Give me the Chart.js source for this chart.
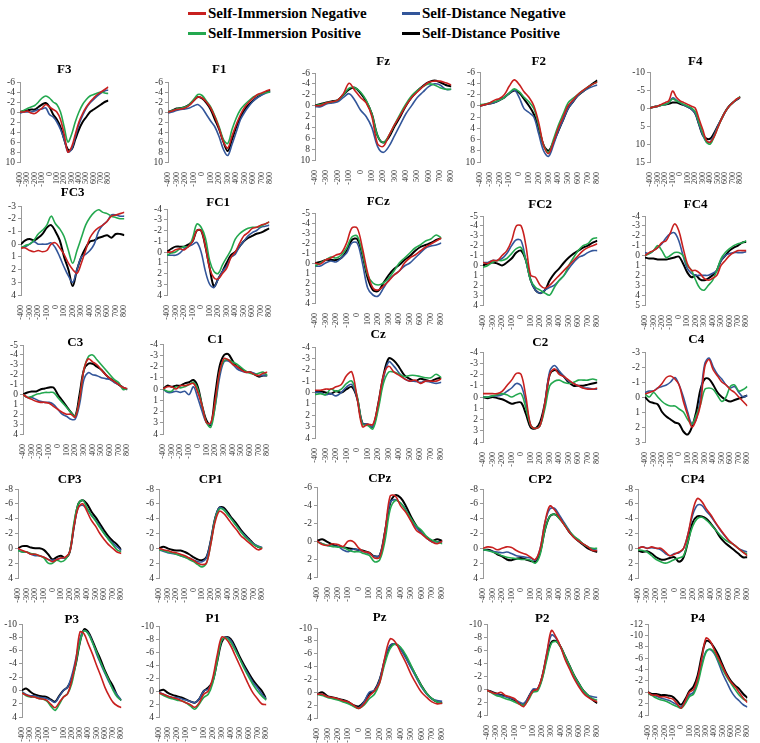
<!DOCTYPE html>
<html lang="en">
<head>
    <meta charset="UTF-8">
    <title>ERP waveforms by condition</title>
    <script src="https://cdn.jsdelivr.net/npm/chart.js"></script>
    <style>
        body { margin: 0; background: #fff; font-family: "Liberation Serif", "Times New Roman", serif; }
        #page { position: relative; width: 760px; height: 743px; overflow: hidden; }
        #page canvas { position: absolute; }
        .key { position: absolute; font-weight: bold; font-size: 15px; line-height: 18px; color: #000; white-space: nowrap; }
        .key i { display: inline-block; width: 18px; height: 3px; vertical-align: middle; margin-right: 2px; margin-top: -2px; }
    </style>
</head>
<body>
<div id="page">
    <div class="key" style="left:188px;top:4px"><i style="background:#c8201f"></i>Self-Immersion Negative</div>
    <div class="key" style="left:188px;top:24px"><i style="background:#23a84f"></i>Self-Immersion Positive</div>
    <div class="key" style="left:402px;top:4px"><i style="background:#33569a"></i>Self-Distance Negative</div>
    <div class="key" style="left:402px;top:24px"><i style="background:#000"></i>Self-Distance Positive</div>
</div>

<script>
    // time axis (ms), one sample every 50 ms
    const times = [-400,-350,-300,-250,-200,-150,-100,-50,0,50,100,150,200,250,300,350,400,450,500,550,600,650,700,750,800];
    const conditions = ['Self-Immersion Negative', 'Self-Immersion Positive', 'Self-Distance Negative', 'Self-Distance Positive'];
    const colors = ['#c8201f', '#23a84f', '#33569a', '#000000'];
    const channels = ['F3','F1','Fz','F2','F4','FC3','FC1','FCz','FC2','FC4','C3','C1','Cz','C2','C4','CP3','CP1','CPz','CP2','CP4','P3','P1','Pz','P2','P4'];

    // amplitudes (uV), order per channel: SI neg, SI pos, SD neg, SD pos
    const F3 = [
        [0,0,-0.2,0.2,0.3,-0.2,-0.8,-1.5,-1,-0.5,0,1.5,4.5,8,7,4.5,2,0.3,-1,-2,-2.8,-3.5,-4,-4.5,-5],
        [0,-0.3,-0.7,-1,-1.3,-2,-2.8,-3.2,-2.8,-2,-1.5,0,3,6,4.5,2,0,-1.5,-2.5,-3.2,-3.5,-3.8,-4,-3.8,-3.7],
        [0.2,0,0,0,-0.2,-0.5,-0.6,-0.8,0.5,1,2,3.5,5.5,8,7.5,5,2.5,0.7,-0.8,-1.8,-2.5,-3.2,-3.8,-4.2,-4.4],
        [0,-0.2,-0.3,-0.5,-0.5,-1,-1.5,-1.8,-1,0.5,1.5,3,5.5,7.5,7.5,5.5,3.5,2,1,0,-0.5,-1,-1.5,-2,-2.3]
    ];
    const F1 = [
        [0,-0.2,-0.5,-0.6,-0.8,-1.3,-2.2,-3,-2.8,-2,-0.8,1,3.3,6,7.2,4.8,2.5,0.5,-1,-2,-2.8,-3.5,-3.8,-4.2,-4.5],
        [0,-0.3,-0.6,-0.8,-1,-1.5,-2.5,-3.5,-3.3,-2.2,-1,0.8,3,5.5,6.3,3.5,1.2,-0.5,-1.5,-2.3,-3,-3.4,-3.7,-3.9,-4],
        [0.2,0,-0.3,-0.5,-0.6,-0.8,-1.2,-1.5,-0.8,0.5,1.8,3,5,7.5,8.7,6.5,4,1.5,0,-1.2,-2.2,-2.9,-3.4,-3.8,-4],
        [0,-0.3,-0.7,-0.8,-1,-1.5,-2.3,-3,-2.7,-1.8,-0.5,1.5,3.5,6,7.8,5.5,3,1,-0.5,-1.5,-2.3,-3,-3.5,-4,-4.3]
    ];
    const Fz = [
        [0,0,-0.5,-0.7,-1,-2.2,-4.1,-2.8,-1.5,-0.5,2,7,7.5,5.5,3.5,1.8,0,-1.5,-2.5,-3.5,-4.3,-4.5,-4.5,-4.2,-3.8],
        [0,-0.2,-0.5,-0.7,-1,-2,-3.2,-3.3,-2.5,-1,1.5,5.5,6.8,5.5,3.5,1.5,-0.3,-1.8,-2.8,-3.5,-4,-3.8,-3.3,-3,-3],
        [0.2,0.2,-0.3,-0.5,-0.7,-1.5,-2.2,-1,0.8,2,4,7.5,8.6,7.5,5.5,3.5,1.5,0,-1.5,-2.5,-3.5,-4,-3.8,-3,-3],
        [0,-0.3,-0.6,-0.8,-1,-2,-3,-3.3,-2.3,-0.8,1.5,5.5,6.8,5.8,3.8,2,0,-1.5,-2.7,-3.6,-4.3,-4.6,-4.3,-3.8,-3.5]
    ];
    const F2 = [
        [0,-0.2,-0.5,-1,-1.3,-2,-3.5,-4.6,-3.8,-2.5,-1.5,0,3,7,8.5,6.5,4,2,0,-1,-2,-2.7,-3.3,-3.8,-4.2],
        [-0.2,-0.3,-0.5,-0.7,-1,-1.5,-2.3,-3,-2.5,-1.5,-0.7,0.5,3.5,7,8.3,6,3.5,1.5,-0.5,-1.3,-2,-2.7,-3.3,-3.8,-4.2],
        [0,-0.2,-0.4,-0.6,-1,-1.5,-2.2,-2.8,-1.5,0.5,1.2,2,5,8,9,7,4.5,2.5,0.5,-0.7,-1.8,-2.5,-3,-3.4,-3.7],
        [0,-0.2,-0.4,-0.6,-1,-1.5,-2.2,-2.7,-2.3,-1.2,0,1.5,4,7,8,6.5,4.5,2.5,0.5,-0.7,-1.8,-2.5,-3.2,-3.9,-4.5]
    ];
    const F4 = [
        [0,-0.3,-0.5,-1,-1.5,-2,-4.7,-3,-2,-1.5,-1,-0.5,0,3,6,9,9.5,8,5.5,3,1,-0.5,-1.5,-2.5,-3],
        [0,-0.3,-0.5,-0.8,-1,-1.5,-2.5,-2,-1.5,-1,-0.5,0,1,4,7,9.5,10,8,5.5,3,1,-0.5,-1.5,-2.5,-3.2],
        [0,-0.3,-0.5,-0.8,-1,-1.5,-2.8,-2.2,-1.5,-0.8,-0.3,0.3,1.5,4.5,7.5,9.5,9.5,7.5,5,3,1,-0.5,-1.5,-2.3,-3],
        [0,-0.3,-0.5,-0.8,-1,-1.2,-1.5,-1.5,-1.2,-0.8,-0.3,0.3,1.5,4.5,7.5,8.5,8.5,7,5,3,1,-0.5,-1.5,-2.3,-3]
    ];
    const FC3 = [
        [0.3,0.3,0.5,0.6,0.5,0.6,0.5,0,-0.1,0.3,0.8,1.5,2,2.3,1.5,0.5,-0.5,-1,-1.3,-1.5,-1.8,-2.2,-2.3,-2.4,-2.5],
        [0.3,0.1,0,-0.3,-0.8,-1.1,-1.5,-2.2,-1.6,-1.2,-0.6,0.5,1.5,0.5,-0.5,-1.5,-2.1,-2.5,-2.7,-2.5,-2.4,-2.2,-2.1,-2,-2],
        [0.3,0.2,0,-0.2,0,0,0,-0.1,0.3,1,1.8,2.5,3,2,1,0.8,0.5,0,-1,-1.5,-1.8,-2.3,-2.3,-2.2,-2.2],
        [0,-0.3,-0.4,-0.3,-0.5,-0.8,-1.3,-1.5,-1,-0.3,1,2,3.3,2,1,0.3,-0.2,-0.3,-0.5,-0.6,-0.7,-0.5,-0.8,-0.8,-0.7]
    ];
    const FC1 = [
        [0,0,-0.2,-0.3,-0.2,-0.5,-1,-2,-2,-0.5,1.5,2.4,2.5,2,1.5,0.5,0,-0.8,-1.5,-1.8,-2.2,-2.3,-2.5,-2.6,-2.8],
        [0.3,0.1,0,-0.3,-0.5,-0.5,-1.3,-2.6,-2.3,-1.3,0.8,1.8,2,1.2,0.5,-0.2,-1.2,-1.7,-2,-2.2,-2.3,-2.3,-2.4,-2.6,-2.8],
        [0.3,0.3,0.3,0.1,-0.3,-0.5,-0.7,-0.9,0,1.8,3,3.3,2.5,1.8,1.3,0.5,0.2,-0.5,-1,-1.5,-1.8,-2,-2.3,-2.4,-2.5],
        [0,-0.3,-0.5,-0.5,-0.5,-0.7,-1,-2,-2,-0.5,1.5,3.2,2.5,1.8,1,0.3,0,-0.5,-1,-1.3,-1.5,-1.7,-1.8,-2,-2.2]
    ];
    const FCz = [
        [0,0.1,-0.3,-0.5,-0.8,-1,-2,-3.5,-3.5,-1.5,1,2.5,2.7,2.3,1.8,1.2,0.8,0,-0.5,-0.8,-1.2,-1.6,-1.9,-2.2,-2.5],
        [0.3,0,-0.3,-0.6,-0.5,-0.8,-1.5,-2.6,-2.7,-1,1.2,2,2.2,2,1.5,0.8,0,-0.5,-1,-1.5,-1.8,-2.2,-2.4,-2.8,-2.5],
        [0.3,0.3,0,-0.2,-0.1,-0.5,-1,-2,-2,0,2.5,3.2,3.3,2.5,1.7,1.2,0.8,0.3,0,-0.5,-1,-1.5,-1.7,-1.8,-2],
        [0,-0.1,-0.3,-0.3,-0.3,-0.5,-1.2,-2.3,-2.4,-0.8,1.5,2.7,2.8,2,1.2,0.6,0.2,-0.3,-0.7,-1.2,-1.6,-1.8,-2,-2.3,-2.5]
    ];
    const FC2 = [
        [-0.3,-0.2,-0.5,-0.5,-1,-1.5,-2.5,-4,-4,-2,1,1.2,2,2.3,2,1.5,1,0.5,0,-0.5,-1,-1.5,-1.8,-2,-2.2],
        [0.2,0,-0.3,-0.5,-0.5,-0.7,-1.2,-1.7,-1.8,-0.5,1.5,2.2,2.5,2.8,3,2.2,1.5,1,0,-0.8,-1.5,-2,-2.2,-2.7,-2.8],
        [-0.3,-0.3,-0.5,-0.5,-0.7,-1.2,-2,-2.6,-2.5,-0.5,1.5,2.5,2.8,2.5,2.2,2,1.5,1,0.3,-0.3,-0.8,-1,-1.3,-1.5,-1.5],
        [0,-0.2,-0.3,-0.2,0,-0.3,-0.7,-1.3,-1.5,-0.5,1.5,2.5,2.8,2.5,1.5,0.8,0.3,-0.3,-0.8,-1.2,-1.5,-1.8,-2,-2.3,-2.5]
    ];
    const FC4 = [
        [0,-0.3,-0.5,-0.8,-1.3,-1.5,-2.3,-3.2,-2.5,-0.8,0.8,1.5,1.5,1.8,2.3,2.5,2.3,2,1,0.5,0,-0.3,-0.5,-0.5,-0.5],
        [0,-0.2,-0.5,-1,-0.5,0.2,0,-0.3,-0.3,0,1,1.5,2.5,3.3,3.5,3,2.5,1.5,0.3,-0.3,-0.7,-1,-1.2,-1.3,-1.5],
        [-0.3,-0.2,-0.5,-0.8,-1.2,-1.8,-2.2,-2.3,-1.5,0,1.3,1.8,2,2,2,2,1.8,1.5,0.5,0,-0.2,-0.3,-0.3,-0.3,-0.4],
        [0.2,0.3,0.3,0.4,0.4,0.4,0.3,0.2,0.1,0.8,1.7,2.2,2,2.4,2.5,2.3,2,1.5,0.5,0,-0.5,-0.8,-1,-1.3,-1.4]
    ];
    const C3 = [
        [0,0.3,0.5,0.7,0.8,0.8,0.9,1.2,1.5,1.8,2,2,2.3,0.5,-2.5,-3.6,-3.3,-3,-2.5,-2,-1.6,-1.3,-1,-0.7,-0.6],
        [0,0.3,0.2,0,-0.1,-0.2,-0.2,-0.2,0.3,0.8,1.3,1.8,2.2,0.5,-2.5,-3.8,-4,-3.5,-3,-2.5,-2,-1.5,-1.2,-0.5,-0.6],
        [0,0.3,0.3,0.5,0.7,0.8,0.8,1,1.5,2,2.2,2.5,2.5,1,-1.5,-2.2,-2,-1.9,-1.7,-1.6,-1.5,-1.2,-1,-0.7,-0.5],
        [0,-0.2,-0.3,-0.3,-0.5,-0.6,-0.7,-0.7,0,0.6,1.2,1.8,2.2,0,-2.5,-3.1,-3.1,-2.8,-2.5,-2,-1.6,-1.3,-1,-0.7,-0.5]
    ];
    const C1 = [
        [0,-0.2,-0.2,0,-0.3,-0.3,-0.4,-0.5,0.3,1.5,3,3,1,-1.5,-2.7,-2.6,-2.2,-2,-1.7,-1.5,-1.5,-1.3,-1.2,-1.4,-1.5],
        [0,0.2,0.2,-0.2,-0.1,-0.2,-0.4,-0.6,0,1.5,3,3.4,1.5,-1.5,-2.5,-2.6,-2.4,-2.2,-1.9,-1.6,-1.4,-1.3,-1.4,-1.5,-1.2],
        [0,0.3,0.3,0.2,0.3,0.2,0.5,-0.2,0.8,2,3,3.1,1.5,-1,-2.4,-2.5,-2.2,-1.8,-1.6,-1.5,-1.5,-1.4,-1.2,-1.2,-1.2],
        [0,-0.3,-0.2,-0.3,-0.3,-0.5,-0.6,-0.8,-0.2,1.5,2.8,3.2,0.5,-2,-3,-3.1,-2.5,-2,-1.8,-1.5,-1.5,-1.3,-1.1,-1.2,-1.2]
    ];
    const Cz = [
        [-0.2,-0.2,-0.3,-0.3,-0.5,-0.7,-1.5,-1.8,0.5,3,2.8,2.8,1,-1.5,-2.3,-1.8,-1.5,-1.2,-1,-1.1,-0.8,-1,-1,-1,-1.2],
        [0.2,0.1,0.2,-0.3,-0.1,-0.3,-0.8,-1,0.3,2.8,2.9,3.2,1.5,-0.8,-1.8,-1.8,-1.6,-1.4,-1.5,-1.5,-1.4,-1.3,-1.3,-1.6,-1.3],
        [0,0,0.2,0.1,0.3,0,-0.5,-0.7,0.5,2.7,2.8,3,1.2,-1.2,-2.7,-2.3,-1.7,-1.2,-1,-1,-0.9,-1,-0.9,-0.8,-0.9],
        [0,-0.1,0,0.1,-0.1,0,-0.3,-0.5,0.5,2.7,2.8,3,1,-1.5,-3,-2.8,-2.2,-1.5,-1.2,-1,-1.2,-1.1,-1,-1.2,-1.3]
    ];
    const C2 = [
        [-0.3,-0.3,-0.3,-0.3,-0.5,-1,-1.5,-2.1,-2,0,2.5,2.8,2.5,0.5,-2,-2.5,-2,-1.8,-1.5,-1.2,-1,-0.8,-0.7,-0.7,-0.8],
        [0,0,-0.1,-0.2,-0.3,-0.2,0,-0.2,-0.3,1,2.5,2.8,2.5,1,-1,-1.4,-1.5,-1.3,-1.2,-1.3,-1.5,-1.5,-1.5,-1.6,-1.5],
        [0,0,-0.1,-0.1,-0.2,-0.5,-0.8,-1.2,-1,0.5,2.5,2.8,2.5,0.5,-2.3,-2.8,-2.3,-1.8,-1.4,-1.2,-1,-0.8,-0.8,-0.7,-0.7],
        [0,0.1,0,0.1,0.2,0.4,0.6,0.5,0.5,1.5,2.7,2.8,2.2,0.5,-2,-2.4,-2.2,-1.8,-1.3,-1,-1,-1,-1.1,-1.2,-1.3]
    ];
    const C4 = [
        [-0.2,-0.3,-0.4,-0.6,-0.9,-1.3,-1.4,-1.2,-0.8,0.3,1.2,2,1.5,0.5,-2,-2.5,-1.8,-1.4,-1,-0.8,-0.5,-0.3,0,0.3,0.6],
        [-0.2,0,-0.3,0,0.3,0.5,0.6,0.6,0.8,1,1.5,1.8,1.2,0.5,-0.5,-0.6,-0.5,-0.1,0.3,0,-0.7,-0.8,-0.4,-0.5,-0.7],
        [-0.3,-0.4,-0.4,-0.6,-0.7,-0.8,-1,-1.3,-0.8,0,1,1.8,1.5,0,-2.2,-2.6,-2,-1.5,-1.2,-0.8,-0.6,-0.7,-0.3,0,-0.1],
        [0,0.3,0.4,0.5,1,1.3,1.5,1.7,1.8,2.3,2.5,2,1,-0.5,-1.2,-1.2,-0.8,-0.3,0,0.2,0.3,0.2,0.1,0,-0.1]
    ];
    const CP3 = [
        [0,0.3,0.5,0.8,0.8,1,1.2,1.5,1.8,1.5,1.3,1.2,0.5,-3,-5.5,-6,-5,-3.8,-3,-2,-1.2,-0.5,0,0.5,0.7],
        [0.3,0.5,0.5,0.7,0.8,1,1.3,2,2,1.6,1.8,1.5,0.5,-3.5,-6,-6.5,-5.5,-4.5,-3.7,-2.8,-2,-1.2,-0.5,0.2,0.5],
        [0.2,0.5,0.5,0.8,1,1,1.2,1.5,1.6,1.5,1.3,1.3,0.5,-3,-5.5,-5.8,-5.3,-4.5,-3.8,-3,-2,-1.3,-0.7,-0.2,0.3],
        [0,-0.3,-0.3,-0.1,0,0,0.2,0.8,1.5,1.2,1,1.3,0.5,-3,-6,-6.5,-6,-5,-4.2,-3.3,-2.4,-1.6,-1,-0.5,0.2]
    ];
    const CP1 = [
        [0,0.2,0.3,0.5,0.6,0.8,1,1.3,1.6,2,2.2,2,-0.5,-3.5,-5,-4.7,-4,-3.2,-2.5,-1.7,-1.2,-0.7,-0.2,0.2,0],
        [0.2,0.3,0.5,0.6,0.8,1,1.2,1.5,1.8,2.2,2.5,2,-0.5,-3.8,-5.3,-5.2,-4.5,-3.8,-3,-2.2,-1.5,-1,-0.5,-0.2,0],
        [0.2,0.4,0.6,0.7,0.8,1,1.2,1.3,1.6,1.8,1.8,1.3,-1,-4,-5.5,-5.3,-4.6,-3.8,-3,-2.3,-1.7,-1.1,-0.6,-0.3,-0.1],
        [0,-0.2,0,0.2,0.3,0.3,0.5,0.8,1.2,1.5,1.6,1.2,-1,-4,-5.5,-5.5,-4.8,-4,-3.3,-2.5,-1.8,-1.2,-0.6,-0.2,0]
    ];
    const CPz = [
        [0,0.4,0.5,0.3,0.4,0.6,0,0.1,0.8,1.2,1.3,1.9,1.8,-1,-5,-5,-3.9,-3.2,-2.2,-1.2,-0.8,-0.3,0.1,0.3,0],
        [0.1,0.3,0.5,0.6,0.7,0.7,1,1.2,1.2,1.4,1.6,2.3,2.1,0,-3.5,-4.5,-4.2,-3.4,-2.5,-1.7,-1.2,-0.5,-0.1,0.1,0.3],
        [0,0.3,0.5,0.6,0.6,1,1.2,0.9,1,1.2,1.4,1.7,1.6,-1,-4.3,-4.6,-4.2,-3.5,-2.3,-1.5,-0.9,-0.3,0.1,0.1,0.1],
        [0,-0.2,0.1,0.4,0.6,0.7,0.8,0.9,1,1.1,1.3,1.7,1.6,-1,-4.2,-5.1,-4.8,-3.9,-2.7,-1.7,-0.9,-0.4,0,-0.2,0]
    ];
    const CP2 = [
        [0,-0.2,-0.1,0.2,0,-0.2,-0.1,0.3,0.6,0.8,1.2,1.5,0,-3.5,-5.7,-5.2,-4.2,-3.2,-2.3,-1.5,-1,-0.6,-0.2,0.3,0.3],
        [0.2,0.3,0.5,0.7,1,1.2,1.3,1.4,1.5,1.5,1.6,2,0.8,-2.5,-4.3,-4.6,-4,-3.3,-2.4,-1.7,-1.2,-0.6,-0.2,0,0],
        [0.2,0.3,0.4,0.5,0.6,0.5,0.7,1,1.1,1.2,1.3,1.6,0,-3.5,-5.3,-5.4,-4.5,-3.5,-2.5,-1.6,-1.1,-0.6,-0.2,0.1,0.3],
        [0.2,0.2,0.4,0.8,1.1,1.5,1.6,1.4,1.3,1.5,1.7,1.8,0.5,-2.5,-4.3,-4.6,-4.1,-3.3,-2.3,-1.6,-1,-0.5,0,0.3,0.5]
    ];
    const CP4 = [
        [0,-0.2,0,-0.2,0,0,0.5,1,0.8,0.5,0,-2,-5,-6.7,-6.3,-5.3,-4.5,-3.5,-2.6,-1.8,-1,-0.5,0,0.5,1],
        [0.2,0.3,0.5,1,1.5,1.8,2,1.8,1.5,1.3,1,-1,-3,-4,-4.2,-3.8,-3.2,-2.5,-1.8,-1.2,-0.8,-0.5,0,0.5,0.8],
        [0,-0.2,0,-0.1,0,0.2,0.7,1,0.7,0.6,0,-2,-4.5,-5.8,-5.8,-5,-4.3,-3.4,-2.5,-1.7,-1,-0.5,0,0.3,0.5],
        [0.3,0.5,0.4,0.7,1.2,1.5,1.5,1.3,1.2,1.8,1.2,-1,-3.5,-4.3,-4.3,-4,-3.3,-2.5,-1.5,-0.8,-0.3,0.2,0.7,1.2,1.2]
    ];
    const P3 = [
        [0.4,0.7,0.9,1,1.2,1.3,1.5,2.1,2.6,1.8,1,0.5,-1.5,-4.5,-8.8,-8.5,-7,-5.5,-3.8,-2.2,-0.5,0.8,1.8,2.3,2.6],
        [0.3,0.8,1,1,1.2,1.3,1.6,2.4,3,2.1,1,0.5,-1,-4,-7.3,-9,-8.5,-7.2,-5.8,-4.2,-2.8,-1.5,0,1,1.5],
        [0.2,0.6,0.8,0.8,1,1.1,1.2,1.5,1.8,0.9,0,-0.5,-2.2,-4.8,-7.8,-9,-8.6,-7.3,-5.5,-4,-2.6,-1.3,-0.2,0.7,1.5],
        [0,-0.3,0.2,0.6,0.8,0.9,1,1.4,1.7,0.8,0,-0.5,-1.8,-4,-7.3,-9.2,-8.8,-7.5,-6,-4.6,-3,-1.7,-0.6,0.8,1.5]
    ];
    const P1 = [
        [0.3,0.5,0.8,1,1.2,1.5,1.8,2.1,2.5,1.8,0.5,0,-2,-5.5,-8.3,-8,-7,-5.5,-4,-2.5,-1,0.3,1.2,2,2.1],
        [0.3,0.7,1,1.2,1.4,1.5,1.8,2.3,2.8,2,1,0.5,-1.2,-4.5,-7.8,-8.2,-7.5,-6.3,-5,-3.5,-2.2,-1,0,0.8,1.4],
        [0.2,0.5,0.8,1,1,1.2,1.4,1.6,1.8,1.2,0,-0.3,-1.5,-5,-7.8,-8.3,-7.8,-6.5,-5,-3.7,-2.5,-1.3,-0.5,0.5,1.2],
        [0,-0.2,0.3,0.6,0.8,1,1.3,1.6,1.8,1.2,0,-0.5,-1.5,-4.5,-7.5,-8.3,-8,-6.8,-5.3,-4,-2.8,-1.7,-0.8,0,1.3]
    ];
    const Pz = [
        [0.3,0.3,0.7,0.8,1,1.3,1.5,2,2.5,1.8,0.6,-0.2,-1.5,-5.5,-8.3,-7.8,-6.2,-4.6,-2.8,-1.3,0,0.8,1.5,1.8,1.7],
        [0.3,0.5,0.8,1,1.2,1.5,1.8,2.2,2.5,2,1,0.3,-1.5,-4.5,-6.8,-7.5,-7,-5.8,-4.2,-2.5,-1,0.2,1,1.5,1.7],
        [0.3,0.3,0.7,0.9,1.1,1.3,1.7,2.1,2.4,1.5,0,-0.3,-2,-5.3,-7.3,-7.5,-6.7,-5.3,-3.8,-2.3,-0.8,0.3,1,1.3,1.4],
        [0.3,0,0.6,0.8,1,1.2,1.5,2,2.2,1.5,0.2,-0.3,-2,-5,-7.2,-7.5,-6.8,-5.5,-4,-2.5,-1,0.2,1,1.5,1.7]
    ];
    const P2 = [
        [0.2,0.5,0.7,0.5,1,1.2,1.5,2.3,2.7,1.5,0.3,0,-2,-5.5,-9,-8,-6.5,-4.5,-3,-1.5,-0.3,0.7,1.3,1.7,2],
        [0.2,0.6,1,1.2,1.5,1.7,2,2.3,2.5,1.7,0.5,0.3,-1.5,-4.5,-7,-7.3,-6.5,-5,-3.5,-2,-0.8,0.3,1,1.5,1.7],
        [0.2,0.5,0.8,1,1.2,1.4,1.6,2,2.2,1.3,0,0,-2,-5.5,-8.3,-7.8,-6.5,-4.7,-3.2,-1.7,-0.5,0.5,1,1.2,1.3],
        [0.2,0.4,0.7,0.9,1.1,1.4,1.7,2.2,2.5,1.3,0.2,0,-1.8,-5,-7.2,-7.4,-6.5,-5,-3.5,-2,-0.8,0.3,1,1.7,2.2]
    ];
    const P4 = [
        [0,0.5,0.5,0.8,0.8,1,1.2,2,2.8,1.5,0,-0.5,-2.5,-6,-9.5,-9,-7.5,-6,-4.5,-3,-1.8,-1,0,1,1.8],
        [0.2,0.6,1,1.3,1.5,1.8,2.2,2.5,2.8,2,0.8,0.3,-1.5,-4.5,-7,-7.6,-7,-5.5,-4,-2.7,-1.6,-0.5,0.5,1.2,1.5],
        [0.2,0.5,0.7,1,1.2,1.4,1.8,2.2,2.6,1.6,0.5,0,-2,-5,-7.2,-7.5,-6.8,-5.2,-3.3,-1.8,-0.3,0.8,1.5,2.2,2.6],
        [0,0.3,0.3,0.5,0.5,0.6,0.8,1.5,2.2,1.2,-0.2,-1,-3,-6.5,-9,-8.8,-7.8,-6.5,-4.8,-3.2,-2,-1.2,-0.6,0.3,1]
    ];

    // y-axis ticks per channel: [top (most negative), bottom, step]
    const yTicks = {
        F3: [-6, 10, 2], F1: [-6, 10, 2], Fz: [-6, 10, 2], F2: [-6, 10, 2], F4: [-10, 15, 5],
        FC3: [-3, 4, 1], FC1: [-4, 4, 1], FCz: [-5, 4, 1], FC2: [-5, 4, 1], FC4: [-4, 5, 1],
        C3: [-5, 4, 1], C1: [-4, 4, 1], Cz: [-4, 4, 1], C2: [-4, 4, 1], C4: [-3, 3, 1],
        CP3: [-8, 4, 2], CP1: [-8, 4, 2], CPz: [-6, 4, 2], CP2: [-8, 4, 2], CP4: [-8, 4, 2],
        P3: [-10, 4, 2], P1: [-10, 4, 2], Pz: [-10, 4, 2], P2: [-10, 4, 2], P4: [-12, 4, 2]
    };

    const waves = { F3, F1, Fz, F2, F4, FC3, FC1, FCz, FC2, FC4, C3, C1, Cz, C2, C4, CP3, CP1, CPz, CP2, CP4, P3, P1, Pz, P2, P4 };

    // where each small panel sits on the page: axis x, plot top, plot bottom, plot right, title y
    const boxes = {
        F3: [20, 82, 162, 114, 70],   F1: [168, 82, 162, 276, 70],  Fz: [315, 73, 160, 457, 62],
        F2: [480, 72, 162, 603, 62],  F4: [650, 72, 162, 746, 62],
        FC3: [21, 206, 295, 130, 193], FC1: [167, 209, 295, 275, 203], FCz: [315, 213, 303, 447, 202],
        FC2: [483, 216, 305, 603, 205], FC4: [645, 216, 305, 752, 205],
        C3: [23, 345, 434, 133, 343], C1: [163, 344, 434, 273, 340], Cz: [315, 347, 438, 447, 335],
        C2: [483, 352, 442, 603, 343], C4: [645, 352, 442, 753, 340],
        CP3: [18, 489, 578, 127, 480], CP1: [159, 489, 578, 268, 480], CPz: [317, 487, 577, 448, 479],
        CP2: [483, 489, 578, 603, 480], CP4: [638, 489, 578, 753, 480],
        P3: [22, 624, 717, 127, 620], P1: [159, 626, 717, 272, 619], Pz: [317, 628, 718, 448, 618],
        P2: [487, 624, 715, 603, 619], P4: [648, 624, 715, 753, 619]
    };

    const Y_BAND = 26;
    const X_BAND = 30;
    const serif = '"Liberation Serif", "Times New Roman", serif';

    // electrode name drawn over the top of each plot, like the original figure
    const panelTitle = {
        id: 'panelTitle',
        afterDraw(chart, args, opts) {
            const { ctx, chartArea } = chart;
            ctx.save();
            ctx.font = 'bold 13px ' + serif;
            ctx.fillStyle = '#000';
            ctx.textAlign = 'center';
            ctx.textBaseline = 'middle';
            ctx.fillText(opts.text, (chartArea.left + chartArea.right) / 2, opts.y);
            ctx.restore();
        }
    };

    const page = document.getElementById('page');

    channels.forEach(ch => {
        const [ax, top, bot, right, ty] = boxes[ch];
        const cTop = Math.min(top - 6, ty - 9);
        const left = ax - Y_BAND;
        const width = right + 6 - left;
        const height = bot + X_BAND - cTop;

        const canvas = document.createElement('canvas');
        canvas.width = width;
        canvas.height = height;
        canvas.style.left = left + 'px';
        canvas.style.top = cTop + 'px';
        page.appendChild(canvas);

        const [yMin, yMax, yStep] = yTicks[ch];

        new Chart(canvas.getContext('2d'), {
            type: 'line',
            data: {
                datasets: waves[ch].map((vals, i) => ({
                    label: conditions[i],
                    data: times.map((t, k) => ({ x: t, y: vals[k] })),
                    borderColor: colors[i],
                    borderWidth: i === 3 ? 2 : 1.6,
                    pointRadius: 0,
                    tension: 0.35,
                    fill: false
                }))
            },
            options: {
                responsive: false,
                animation: false,
                devicePixelRatio: 1,
                layout: { padding: { top: top - cTop, right: 6, left: 0, bottom: 0 } },
                plugins: {
                    legend: { display: false },
                    tooltip: { enabled: false },
                    panelTitle: { text: ch, y: ty - cTop }
                },
                scales: {
                    x: {
                        type: 'linear',
                        min: -400,
                        max: 800,
                        afterFit: s => { s.height = X_BAND; },
                        grid: { display: false },
                        border: { display: false },
                        ticks: {
                            stepSize: 100,
                            autoSkip: false,
                            minRotation: 90,
                            maxRotation: 90,
                            padding: 2,
                            color: '#333',
                            font: { family: serif, size: 8 }
                        }
                    },
                    y: {
                        reverse: true,
                        min: yMin,
                        max: yMax,
                        afterFit: s => { s.width = Y_BAND; },
                        grid: { drawOnChartArea: false, drawTicks: true, tickLength: 3, color: '#999' },
                        border: { display: true, color: '#999' },
                        ticks: {
                            stepSize: yStep,
                            autoSkip: false,
                            padding: 2,
                            color: '#333',
                            font: { family: serif, size: 9.5 }
                        }
                    }
                }
            },
            plugins: [panelTitle]
        });
    });
</script>
</body>
</html>
